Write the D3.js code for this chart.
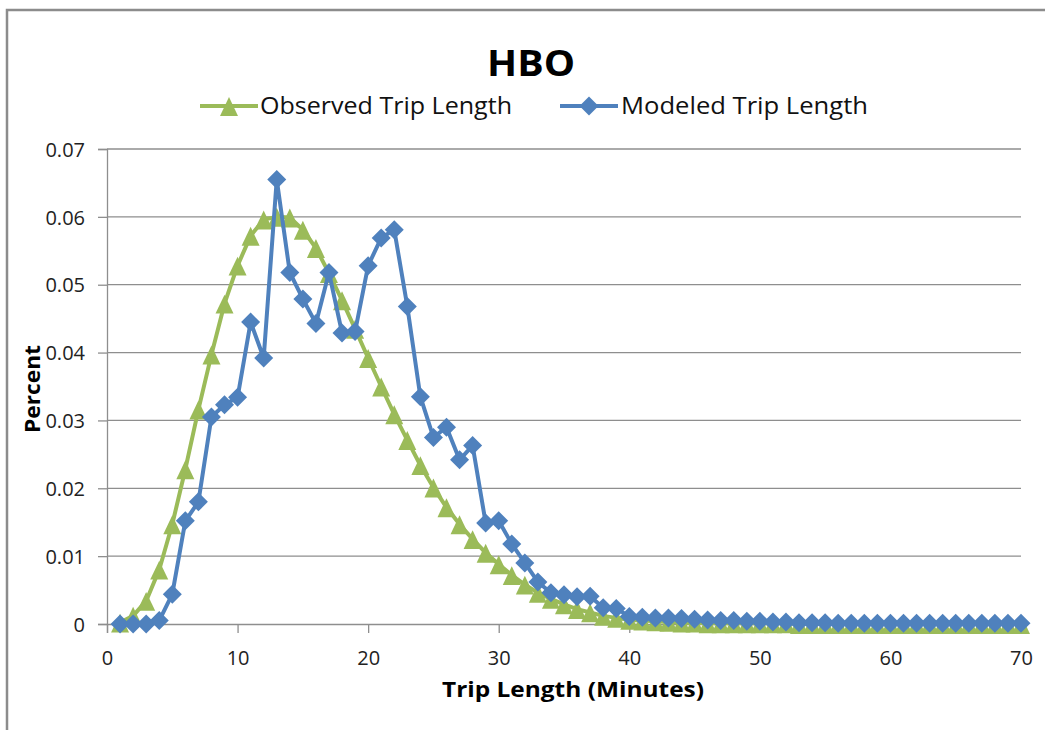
<!DOCTYPE html>
<html>
<head>
<meta charset="utf-8">
<script src="https://cdn.jsdelivr.net/npm/d3@7"></script>
<style>
  body { margin: 0; background: #fff; }
  svg { display: block; }
  svg text { font-family: "Open Sans", "Liberation Sans", sans-serif; }
</style>
</head>
<body>
<svg id="chart"></svg>
<script>
// data
const minutes = [1,2,3,4,5,6,7,8,9,10,11,12,13,14,15,16,17,18,19,20,
  21,22,23,24,25,26,27,28,29,30,31,32,33,34,35,36,37,38,39,40,
  41,42,43,44,45,46,47,48,49,50,51,52,53,54,55,56,57,58,59,60,
  61,62,63,64,65,66,67,68,69,70];

const observed = [0.0002,0.0012,0.0034,0.0080,0.0147,0.0228,0.0316,0.0397,0.0472,0.0528,
  0.0572,0.0596,0.0600,0.0599,0.0581,0.0554,0.0517,0.0477,0.0435,0.0392,
  0.0350,0.0309,0.0271,0.0234,0.0201,0.0172,0.0147,0.0125,0.0105,0.0088,
  0.0072,0.0058,0.0046,0.0037,0.0029,0.0022,0.0017,0.0012,0.0009,0.0006,
  0.0005,0.0004,0.0003,0.0002,0.0002,0.0001,0.0001,0.0001,0.0001,0.0001,
  0.0001,0.0001,0,0,0,0,0,0,0,0,
  0,0,0,0,0,0,0,0,0,0];

const modeled = [0,0,0,0.0005,0.0044,0.0152,0.0180,0.0305,0.0323,0.0334,
  0.0445,0.0392,0.0655,0.0518,0.0479,0.0443,0.0518,0.0429,0.0431,0.0528,
  0.0569,0.0581,0.0468,0.0335,0.0275,0.0290,0.0242,0.0263,0.0149,0.0152,
  0.0118,0.0090,0.0062,0.0046,0.0043,0.0040,0.0041,0.0024,0.0023,0.0011,
  0.0010,0.0009,0.0009,0.0008,0.0007,0.0006,0.0005,0.0005,0.0004,0.0004,
  0.0003,0.0003,0.0002,0.0002,0.0002,0.0001,0.0001,0.0001,0.0001,0.0001,
  0.0001,0.0001,0.0001,0.0001,0.0001,0.0001,0.0001,0.0001,0.0001,0.0001];

const xTicks = [0,10,20,30,40,50,60,70];
const yTicks = [0,0.01,0.02,0.03,0.04,0.05,0.06,0.07];

const seriesNames = ["Observed Trip Length", "Modeled Trip Length"];
const green = "#9BBB59";
const blue = "#4F81BD";

// setup
const width = 1045;
const height = 730;
const plotLeft = 107, plotRight = 1021, plotTop = 149, plotBottom = 624;

const svg = d3.select("#chart")
    .attr("width", width)
    .attr("height", height);

// outer frame (only top/left visible)
svg.append("path")
    .attr("d", `M7,${height + 5}V10H${width + 5}`)
    .attr("fill", "none")
    .attr("stroke", "#8c8c8c")
    .attr("stroke-width", 2.5);

const x = d3.scaleLinear().domain([0, 70]).range([plotLeft, plotRight]);
const y = d3.scaleLinear().domain([0, 0.07]).range([plotBottom, plotTop]);

// gridlines
svg.append("g")
    .selectAll("line")
    .data(yTicks.filter(d => d > 0))
    .enter()
    .append("line")
    .attr("x1", plotLeft)
    .attr("x2", plotRight)
    .attr("y1", d => y(d))
    .attr("y2", d => y(d))
    .attr("stroke", "#8e8e8e")
    .attr("stroke-width", 1.3);

// axes
const fmtY = d => d === 0 ? "0" : d3.format(".2f")(d);

const yAxis = svg.append("g")
    .attr("transform", `translate(${plotLeft},0)`)
    .call(d3.axisLeft(y).tickValues(yTicks).tickFormat(fmtY).tickSize(9).tickPadding(13));

const xAxis = svg.append("g")
    .attr("transform", `translate(0,${plotBottom})`)
    .call(d3.axisBottom(x).tickValues(xTicks).tickFormat(d3.format("d")).tickSize(9).tickPadding(18));

[yAxis, xAxis].forEach(g => {
    g.select(".domain").attr("stroke", "#8e8e8e").attr("stroke-width", 1.3);
    g.selectAll(".tick line").attr("stroke", "#8e8e8e").attr("stroke-width", 1.3);
    g.selectAll(".tick text")
        .attr("fill", "#222")
        .style("font-size", "20px")
        .style("font-family", "'Open Sans', sans-serif");
});
yAxis.selectAll(".tick text").attr("dy", "0.36em");

// markers
const diamond = s => `M0,${-s}L${s},0L0,${s}L${-s},0Z`;
const triangle = s => `M0,${-s}L${s},${s * 1.1}L${-s},${s * 1.1}Z`;

const line = d3.line()
    .x(d => x(d[0]))
    .y(d => y(d[1]));

function drawSeries(values, color, shape) {
    const pts = minutes.map((m, i) => [m, values[i]]);
    svg.append("path")
        .datum(pts)
        .attr("d", line)
        .attr("fill", "none")
        .attr("stroke", color)
        .attr("stroke-width", 4)
        .attr("stroke-linejoin", "round");
    svg.append("g")
        .selectAll("path")
        .data(pts)
        .enter()
        .append("path")
        .attr("transform", d => `translate(${x(d[0])},${y(d[1])})`)
        .attr("d", shape)
        .attr("fill", color);
}

drawSeries(observed, green, triangle(9));
drawSeries(modeled, blue, diamond(9.5));

// title
svg.append("text")
    .attr("x", 531)
    .attr("y", 76)
    .attr("text-anchor", "middle")
    .style("font-size", "36px")
    .style("font-weight", "bold")
    .attr("textLength", 88)
    .attr("lengthAdjust", "spacingAndGlyphs")
    .text("HBO");

// legend
const legend = [
    { name: seriesNames[0], color: green, shape: triangle(9), x0: 200, tx: 260, tw: 252 },
    { name: seriesNames[1], color: blue, shape: diamond(9.5), x0: 560, tx: 621, tw: 247 }
];
legend.forEach(l => {
    svg.append("line")
        .attr("x1", l.x0).attr("x2", l.x0 + 58)
        .attr("y1", 106).attr("y2", 106)
        .attr("stroke", l.color)
        .attr("stroke-width", 4);
    svg.append("path")
        .attr("transform", `translate(${l.x0 + 29},106)`)
        .attr("d", l.shape)
        .attr("fill", l.color);
    svg.append("text")
        .attr("x", l.tx)
        .attr("y", 114)
        .style("font-size", "23px")
        .attr("fill", "#111")
        .attr("textLength", l.tw)
        .attr("lengthAdjust", "spacingAndGlyphs")
        .text(l.name);
});

// axis titles
svg.append("text")
    .attr("x", 573)
    .attr("y", 697)
    .attr("text-anchor", "middle")
    .style("font-size", "22px")
    .style("font-weight", "bold")
    .attr("textLength", 262)
    .attr("lengthAdjust", "spacingAndGlyphs")
    .text("Trip Length (Minutes)");

svg.append("text")
    .attr("transform", "translate(40,389) rotate(-90)")
    .attr("text-anchor", "middle")
    .style("font-size", "22px")
    .style("font-weight", "bold")
    .attr("textLength", 88)
    .attr("lengthAdjust", "spacingAndGlyphs")
    .text("Percent");
</script>
</body>
</html>
